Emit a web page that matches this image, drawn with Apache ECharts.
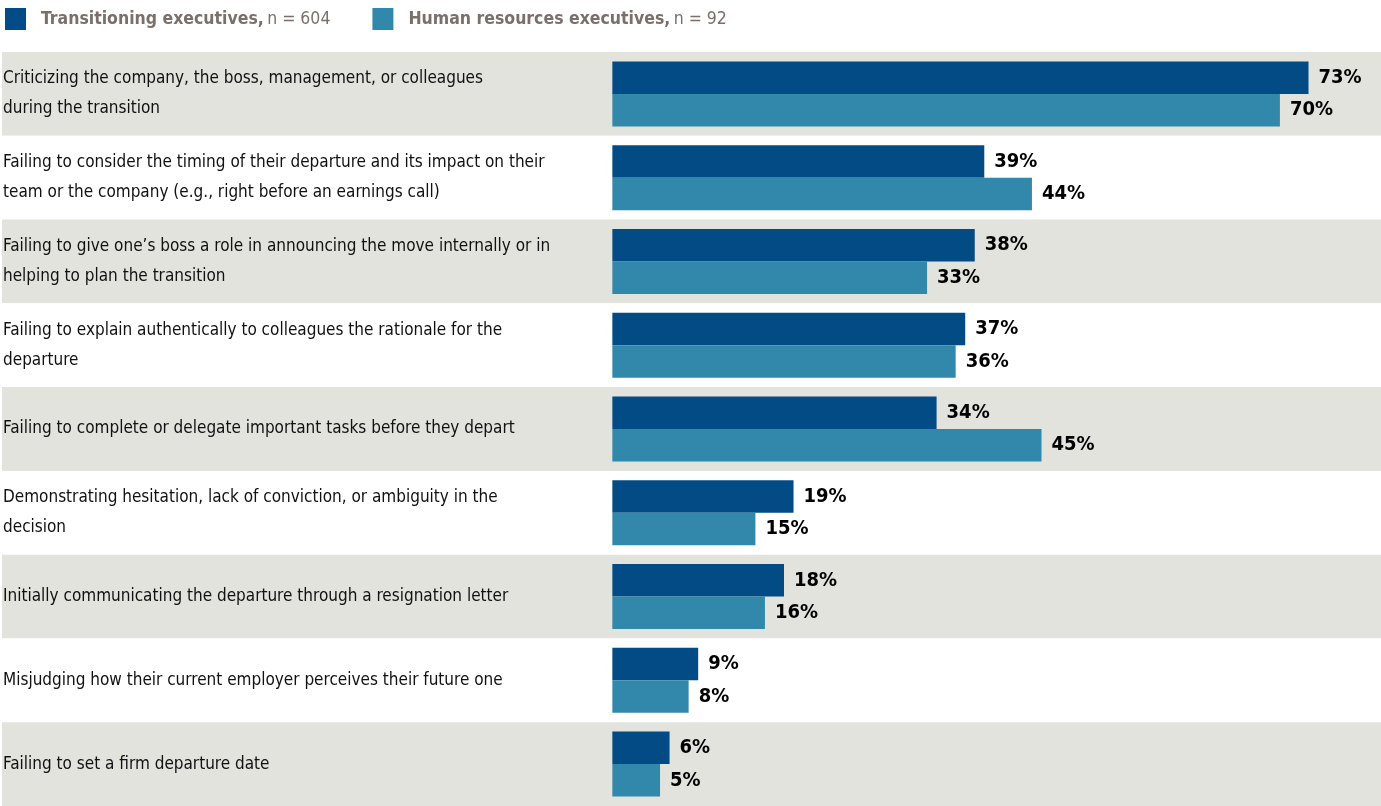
<!DOCTYPE html>
<html>
<head>
<meta charset="utf-8">
<script src="https://cdn.jsdelivr.net/npm/echarts@6/dist/echarts.min.js"></script>
<style>
  html, body { margin: 0; padding: 0; background: #fff; }
  #chart { width: 1381px; height: 806px; }
</style>
</head>
<body>
<div id="chart"></div>
<script>
// categories, top to bottom
var categories = [
  'Criticizing the company, the boss, management, or colleagues\nduring the transition',
  'Failing to consider the timing of their departure and its impact on their\nteam or the company (e.g., right before an earnings call)',
  'Failing to give one\u2019s boss a role in announcing the move internally or in\nhelping to plan the transition',
  'Failing to explain authentically to colleagues the rationale for the\ndeparture',
  'Failing to complete or delegate important tasks before they depart',
  'Demonstrating hesitation, lack of conviction, or ambiguity in the\ndecision',
  'Initially communicating the departure through a resignation letter',
  'Misjudging how their current employer perceives their future one',
  'Failing to set a firm departure date'
];
var seriesNames = ['Transitioning executives', 'Human resources executives'];
var sampleSizes = [604, 92];
var transitioning = [73, 39, 38, 37, 34, 19, 18, 9, 6];
var hrExecs = [70, 44, 33, 36, 45, 15, 16, 8, 5];

var FONT = '"Liberation Sans Narrow", "DejaVu Sans Condensed", "Roboto", sans-serif';

var chart = echarts.init(document.getElementById('chart'));

function barSeries(name, data, color) {
  return {
    name: name,
    type: 'bar',
    data: data,
    barWidth: 32.5,
    barGap: '0%',
    itemStyle: { color: color },
    label: {
      show: true,
      position: 'right',
      distance: 10,
      formatter: '{c}%',
      color: '#000',
      fontFamily: FONT,
      fontWeight: 'bold',
      fontSize: 20
    },
    emphasis: { disabled: true },
    animation: false
  };
}

chart.setOption({
  backgroundColor: '#fff',
  textStyle: { fontFamily: FONT },
  legend: {
    left: 5,
    top: 8,
    padding: 0,
    itemWidth: 21,
    itemHeight: 22,
    itemGap: 42,
    icon: 'rect',
    data: seriesNames,
    formatter: function (name) {
      var i = seriesNames.indexOf(name);
      return '{b|' + name + ',} {n|n = ' + sampleSizes[i] + '}';
    },
    textStyle: {
      rich: {
        b: { fontFamily: FONT, fontWeight: 'bold', fontSize: 17.5, color: '#7a6f6b', padding: [0, 0, 0, 10] },
        n: { fontFamily: FONT, fontSize: 17.5, color: '#7a6f6b' }
      }
    }
  },
  grid: { left: 0, right: 0, top: 52, bottom: 0, containLabel: false },
  xAxis: {
    type: 'value',
    min: -64,
    max: 80.6,
    show: false,
    splitLine: { show: false }
  },
  yAxis: {
    type: 'category',
    inverse: true,
    data: categories,
    axisLine: { show: false },
    axisTick: { show: false },
    splitArea: { show: true, areaStyle: { color: ['#e1e3dc', '#ffffff'] } },
    axisLabel: {
      inside: true,
      margin: 1,
      align: 'left',
      color: '#111',
      fontFamily: FONT,
      fontSize: 17,
      lineHeight: 30
    }
  },
  series: [
    barSeries(seriesNames[0], transitioning, '#024b85'),
    barSeries(seriesNames[1], hrExecs, '#3288aa')
  ]
});
</script>
</body>
</html>
